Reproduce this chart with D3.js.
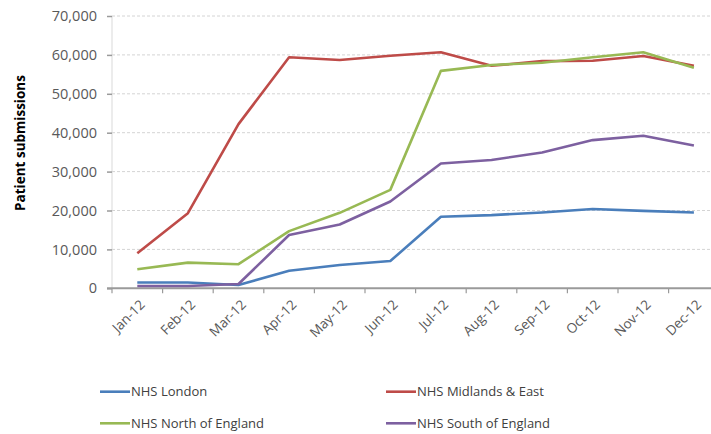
<!DOCTYPE html>
<html>
<head>
<meta charset="utf-8">
<script src="https://cdn.jsdelivr.net/npm/d3@7"></script>
<style>
  html, body { margin: 0; padding: 0; background: #fff; }
  svg { display: block; }
  text { font-family: "Open Sans", "Liberation Sans", sans-serif; }
</style>
</head>
<body>
<svg id="chart" width="711" height="434"></svg>
<script>
// Monthly patient submissions per NHS region, 2012
const months = ["Jan-12", "Feb-12", "Mar-12", "Apr-12", "May-12", "Jun-12",
                "Jul-12", "Aug-12", "Sep-12", "Oct-12", "Nov-12", "Dec-12"];

const london        = [1500, 1500, 850, 4500, 6000, 7000, 18400, 18800, 19500, 20400, 19900, 19500];
const midlandsEast  = [9000, 19300, 42200, 59400, 58700, 59800, 60700, 57200, 58400, 58500, 59700, 57200];
const northEngland  = [4900, 6600, 6200, 14700, 19400, 25300, 55900, 57400, 58000, 59400, 60700, 56700];
const southEngland  = [600, 600, 1100, 13700, 16400, 22300, 32100, 33000, 34900, 38100, 39200, 36700];

const yTicks = [0, 10000, 20000, 30000, 40000, 50000, 60000, 70000];

const seriesNames  = ["NHS London", "NHS Midlands & East", "NHS North of England", "NHS South of England"];
const seriesValues = [london, midlandsEast, northEngland, southEngland];
const seriesColors = ["#4a7ebb", "#be4b48", "#98b954", "#7d60a0"];

const svg = d3.select("#chart");

const plotLeft = 112, plotBottom = 288.3, plotTop = 16, step = 50.6;
const x = d3.scalePoint().domain(months).range([plotLeft, plotLeft + step * months.length]).padding(0.5);
const y = d3.scaleLinear().domain([0, 70000]).range([plotBottom, plotTop]);

// horizontal gridlines
svg.append("g")
  .selectAll("line")
  .data(yTicks.filter(d => d > 0))
  .join("line")
  .attr("x1", plotLeft).attr("x2", 711)
  .attr("y1", d => y(d)).attr("y2", d => y(d))
  .attr("stroke", "#d4d4d4")
  .attr("stroke-width", 1)
  .attr("stroke-dasharray", "3,2");

// vertical axis line
svg.append("line")
  .attr("x1", plotLeft).attr("x2", plotLeft)
  .attr("y1", plotTop).attr("y2", plotBottom)
  .attr("stroke", "#d9d9d9").attr("stroke-width", 1);

// y axis ticks and labels
const yAxis = d3.axisLeft(y).tickValues(yTicks).tickSize(5).tickPadding(10)
  .tickFormat(d3.format(","));
const gy = svg.append("g").attr("transform", `translate(${plotLeft},0)`).call(yAxis);
gy.select(".domain").remove();
gy.selectAll(".tick line").attr("stroke", "#9a9a9a").attr("stroke-width", 1.5);
gy.selectAll(".tick text")
  .attr("fill", "#595959")
  .style("font-size", "14.5px")
  .style("font-family", "'Open Sans', sans-serif");

// x axis: tick marks sit between categories
const boundaries = d3.range(months.length + 1).map(i => plotLeft + i * step);
svg.append("g")
  .selectAll("line")
  .data(boundaries)
  .join("line")
  .attr("x1", d => d).attr("x2", d => d)
  .attr("y1", plotBottom).attr("y2", plotBottom + 5)
  .attr("stroke", "#9a9a9a").attr("stroke-width", 1.2);

svg.append("line")
  .attr("x1", plotLeft - 5).attr("x2", 711)
  .attr("y1", plotBottom).attr("y2", plotBottom)
  .attr("stroke", "#9a9a9a").attr("stroke-width", 2);

// rotated month labels
svg.append("g")
  .selectAll("text")
  .data(months)
  .join("text")
  .attr("transform", d => `translate(${x(d) + 5},${plotBottom + 14}) rotate(-45)`)
  .attr("text-anchor", "end")
  .attr("dy", "0.35em")
  .attr("fill", "#595959")
  .style("font-size", "13.5px")
  .text(d => d);

// y axis title
svg.append("text")
  .attr("transform", `translate(20,143) rotate(-90)`)
  .attr("text-anchor", "middle")
  .attr("dy", "0.35em")
  .attr("fill", "#000")
  .style("font-size", "13.5px")
  .style("font-weight", "bold")
  .text("Patient submissions");

// series lines
const line = d3.line()
  .x((d, i) => x(months[i]))
  .y(d => y(d));

svg.append("g")
  .selectAll("path")
  .data(seriesValues)
  .join("path")
  .attr("d", d => line(d))
  .attr("fill", "none")
  .attr("stroke", (d, i) => seriesColors[i])
  .attr("stroke-width", 2.6)
  .attr("stroke-linejoin", "round");

// legend
const legendPos = [[100, 391.7], [386, 391.7], [100, 423.3], [386, 423.3]];
const legend = svg.append("g")
  .selectAll("g")
  .data(seriesNames)
  .join("g")
  .attr("transform", (d, i) => `translate(${legendPos[i][0]},${legendPos[i][1]})`);

legend.append("line")
  .attr("x1", 0).attr("x2", 30)
  .attr("y1", 0).attr("y2", 0)
  .attr("stroke", (d, i) => seriesColors[i])
  .attr("stroke-width", 2.6);

legend.append("text")
  .attr("x", 31)
  .attr("dy", "0.35em")
  .attr("fill", "#404040")
  .style("font-size", "13px")
  .text(d => d);
</script>
</body>
</html>
